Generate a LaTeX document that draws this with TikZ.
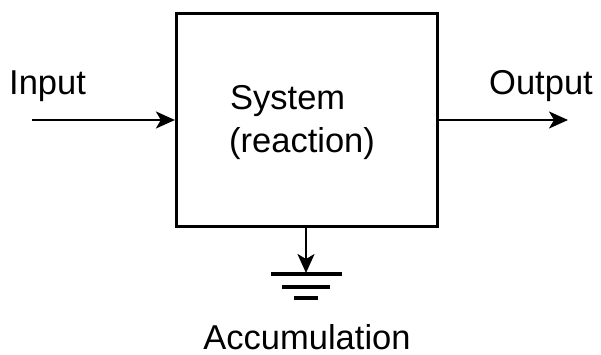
\documentclass[tikz,border=0pt]{standalone}
\usepackage{fontspec}
\setmainfont{Liberation Sans}
\usetikzlibrary{arrows.meta}
\begin{document}
\begin{tikzpicture}[x=1pt,y=-1pt,
  lbl/.style={inner sep=0pt,font=\fontsize{34.5}{40}\selectfont},
  flow/.style={line width=2.4pt,-{Stealth[length=19pt,width=17pt,inset=5pt]}},
  gline/.style={line width=3.2pt}]
\useasboundingbox (0,0) rectangle (601,355);
\node[draw,line width=3.2pt,minimum width=261pt,minimum height=213pt,inner sep=0pt] (box) at (307,120) {};
\node[lbl,anchor=base west] (sys) at (230,110) {System};
\node[lbl,anchor=base west] (rea) at (229,153) {(reaction)};
\node[lbl,anchor=base west] (in) at (9,95) {Input};
\node[lbl,anchor=base west] (out) at (489,95) {Output};
\node[lbl,anchor=base] (acc) at (307,349) {Accumulation};
\coordinate (src) at (32,120);
\coordinate (snk) at (568,120);
\coordinate (g1l) at (271,274); \coordinate (g1r) at (342,274);
\coordinate (g2l) at (282,287); \coordinate (g2r) at (330,287);
\coordinate (g3l) at (294,298); \coordinate (g3r) at (318,298);
\coordinate (gnd) at (306,273);
\draw[flow] (src) -- (box.west);
\draw[flow] (box.east) -- (snk);
\draw[flow] (box.south -| gnd) -- (gnd);
\draw[gline] (g1l) -- (g1r);
\draw[gline] (g2l) -- (g2r);
\draw[gline] (g3l) -- (g3r);
\end{tikzpicture}
\end{document}
